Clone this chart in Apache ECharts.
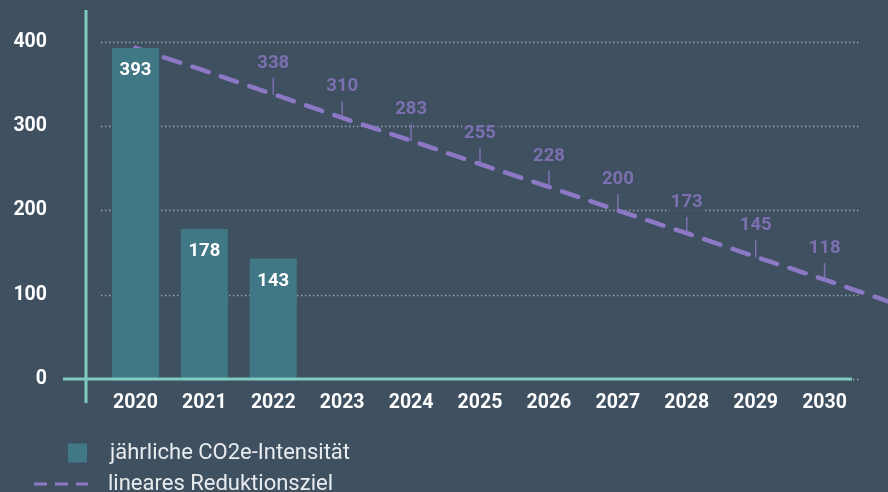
<!DOCTYPE html>
<html>
<head>
<meta charset="utf-8">
<script src="https://cdn.jsdelivr.net/npm/echarts@6/dist/echarts.min.js"></script>
<style>
  html, body { margin: 0; padding: 0; background: #3f5060; }
  #chart { width: 888px; height: 492px; }
</style>
</head>
<body>
<div id="chart"></div>
<script>
// data
const years = ['2020', '2021', '2022', '2023', '2024', '2025', '2026', '2027', '2028', '2029', '2030']
const intensity = [393, 178, 143, null, null, null, null, null, null, null, null]
// target line: x = category index, the last point lies past the right edge
const targetX = [0, 1, 2, 3, 4, 5, 6, 7, 8, 9, 10, 11]
const targetValues = [393, 366, 338, 310, 283, 255, 228, 200, 173, 145, 118, 90]
// target labels are shown for 2022 - 2030
const labelFrom = 2
const yTicks = [0, 100, 200, 300, 400]

const bg = '#3f5060'
const barColor = '#407886'
const mint = '#7fcbbf'
const purple = '#8c78c4'

const chartDom = document.getElementById('chart')
const myChart = echarts.init(chartDom)

const linePoints = targetX.map((x, i) => [x, targetValues[i]])
const labelPoints = linePoints.filter(p => p[0] >= labelFrom && p[0] < years.length)

const yMin = yTicks[0]
const yMax = yTicks[yTicks.length - 1]

const option = {
  backgroundColor: bg,
  animation: false,
  textStyle: { fontFamily: 'Roboto' },
  grid: [
    { left: 101, right: 29, top: 42, bottom: 113 },
    // same band width, one band wider so the target line runs off the edge
    { left: 101, right: -40, top: 42, bottom: 113, outerBoundsMode: 'none' }
  ],
  xAxis: [
    {
      type: 'category',
      gridIndex: 0,
      data: years,
      axisLine: { show: false },
      axisTick: { show: false },
      axisLabel: { color: '#ffffff', fontSize: 19.5, fontWeight: 'bold', margin: 14 }
    },
    {
      type: 'value',
      gridIndex: 1,
      min: -0.5,
      max: targetX.length - 0.5,
      show: false
    }
  ],
  yAxis: [
    {
      type: 'value',
      gridIndex: 0,
      min: yMin,
      max: yMax,
      interval: 100,
      axisLine: { show: false },
      axisTick: { show: false },
      axisLabel: { color: '#ffffff', fontSize: 19.5, fontWeight: 'bold', margin: 54 },
      splitLine: { lineStyle: { color: '#a3adb6', type: [1.3, 2.7], width: 1.3 } }
    },
    {
      type: 'value',
      gridIndex: 1,
      min: yMin,
      max: yMax,
      show: false
    }
  ],
  legend: [
    {
      data: ['jährliche CO2e-Intensität'],
      left: 63,
      top: 437,
      icon: 'rect',
      itemWidth: 19,
      itemHeight: 19,
      textStyle: { color: '#e8ecef', fontSize: 22, padding: [0, 0, 0, 18] }
    },
    {
      data: ['lineares Reduktionsziel'],
      left: 29,
      top: 468,
      icon: 'path://M0,0H13V3H0Z M21,0H34V3H21Z M42,0H54V3H42Z',
      itemWidth: 54,
      itemHeight: 19,
      textStyle: { color: '#e8ecef', fontSize: 22, padding: [0, 0, 0, 15] }
    }
  ],
  graphic: [
    {
      type: 'line',
      shape: { x1: 86, y1: 10, x2: 86, y2: 403 },
      style: { stroke: mint, lineWidth: 3 },
      z: 10
    },
    {
      type: 'line',
      shape: { x1: 63, y1: 379, x2: 852, y2: 379 },
      style: { stroke: mint, lineWidth: 3 },
      z: 10
    }
  ],
  series: [
    {
      name: 'lineares Reduktionsziel',
      type: 'line',
      xAxisIndex: 1,
      yAxisIndex: 1,
      data: linePoints,
      symbol: 'none',
      lineStyle: { color: purple, width: 4.5, type: [17, 13], cap: 'round' },
      itemStyle: { color: purple },
      z: 2
    },
    {
      name: 'ziel-beschriftung',
      type: 'scatter',
      xAxisIndex: 1,
      yAxisIndex: 1,
      data: labelPoints,
      symbol: 'rect',
      symbolSize: [1.5, 17],
      symbolOffset: [0, -8],
      itemStyle: { color: purple },
      label: {
        show: true,
        position: 'top',
        distance: 5,
        color: purple,
        fontSize: 18.5,
        fontWeight: 'bold',
        backgroundColor: bg,
        padding: [0, 2],
        formatter: p => p.value[1]
      },
      z: 4
    },
    {
      name: 'jährliche CO2e-Intensität',
      type: 'bar',
      xAxisIndex: 0,
      yAxisIndex: 0,
      data: intensity,
      barWidth: 47,
      itemStyle: { color: barColor },
      label: {
        show: true,
        position: 'insideTop',
        distance: 13,
        color: '#ffffff',
        fontSize: 18.5,
        fontWeight: 'bold'
      },
      z: 5
    }
  ]
}

option && myChart.setOption(option)
</script>
</body>
</html>
